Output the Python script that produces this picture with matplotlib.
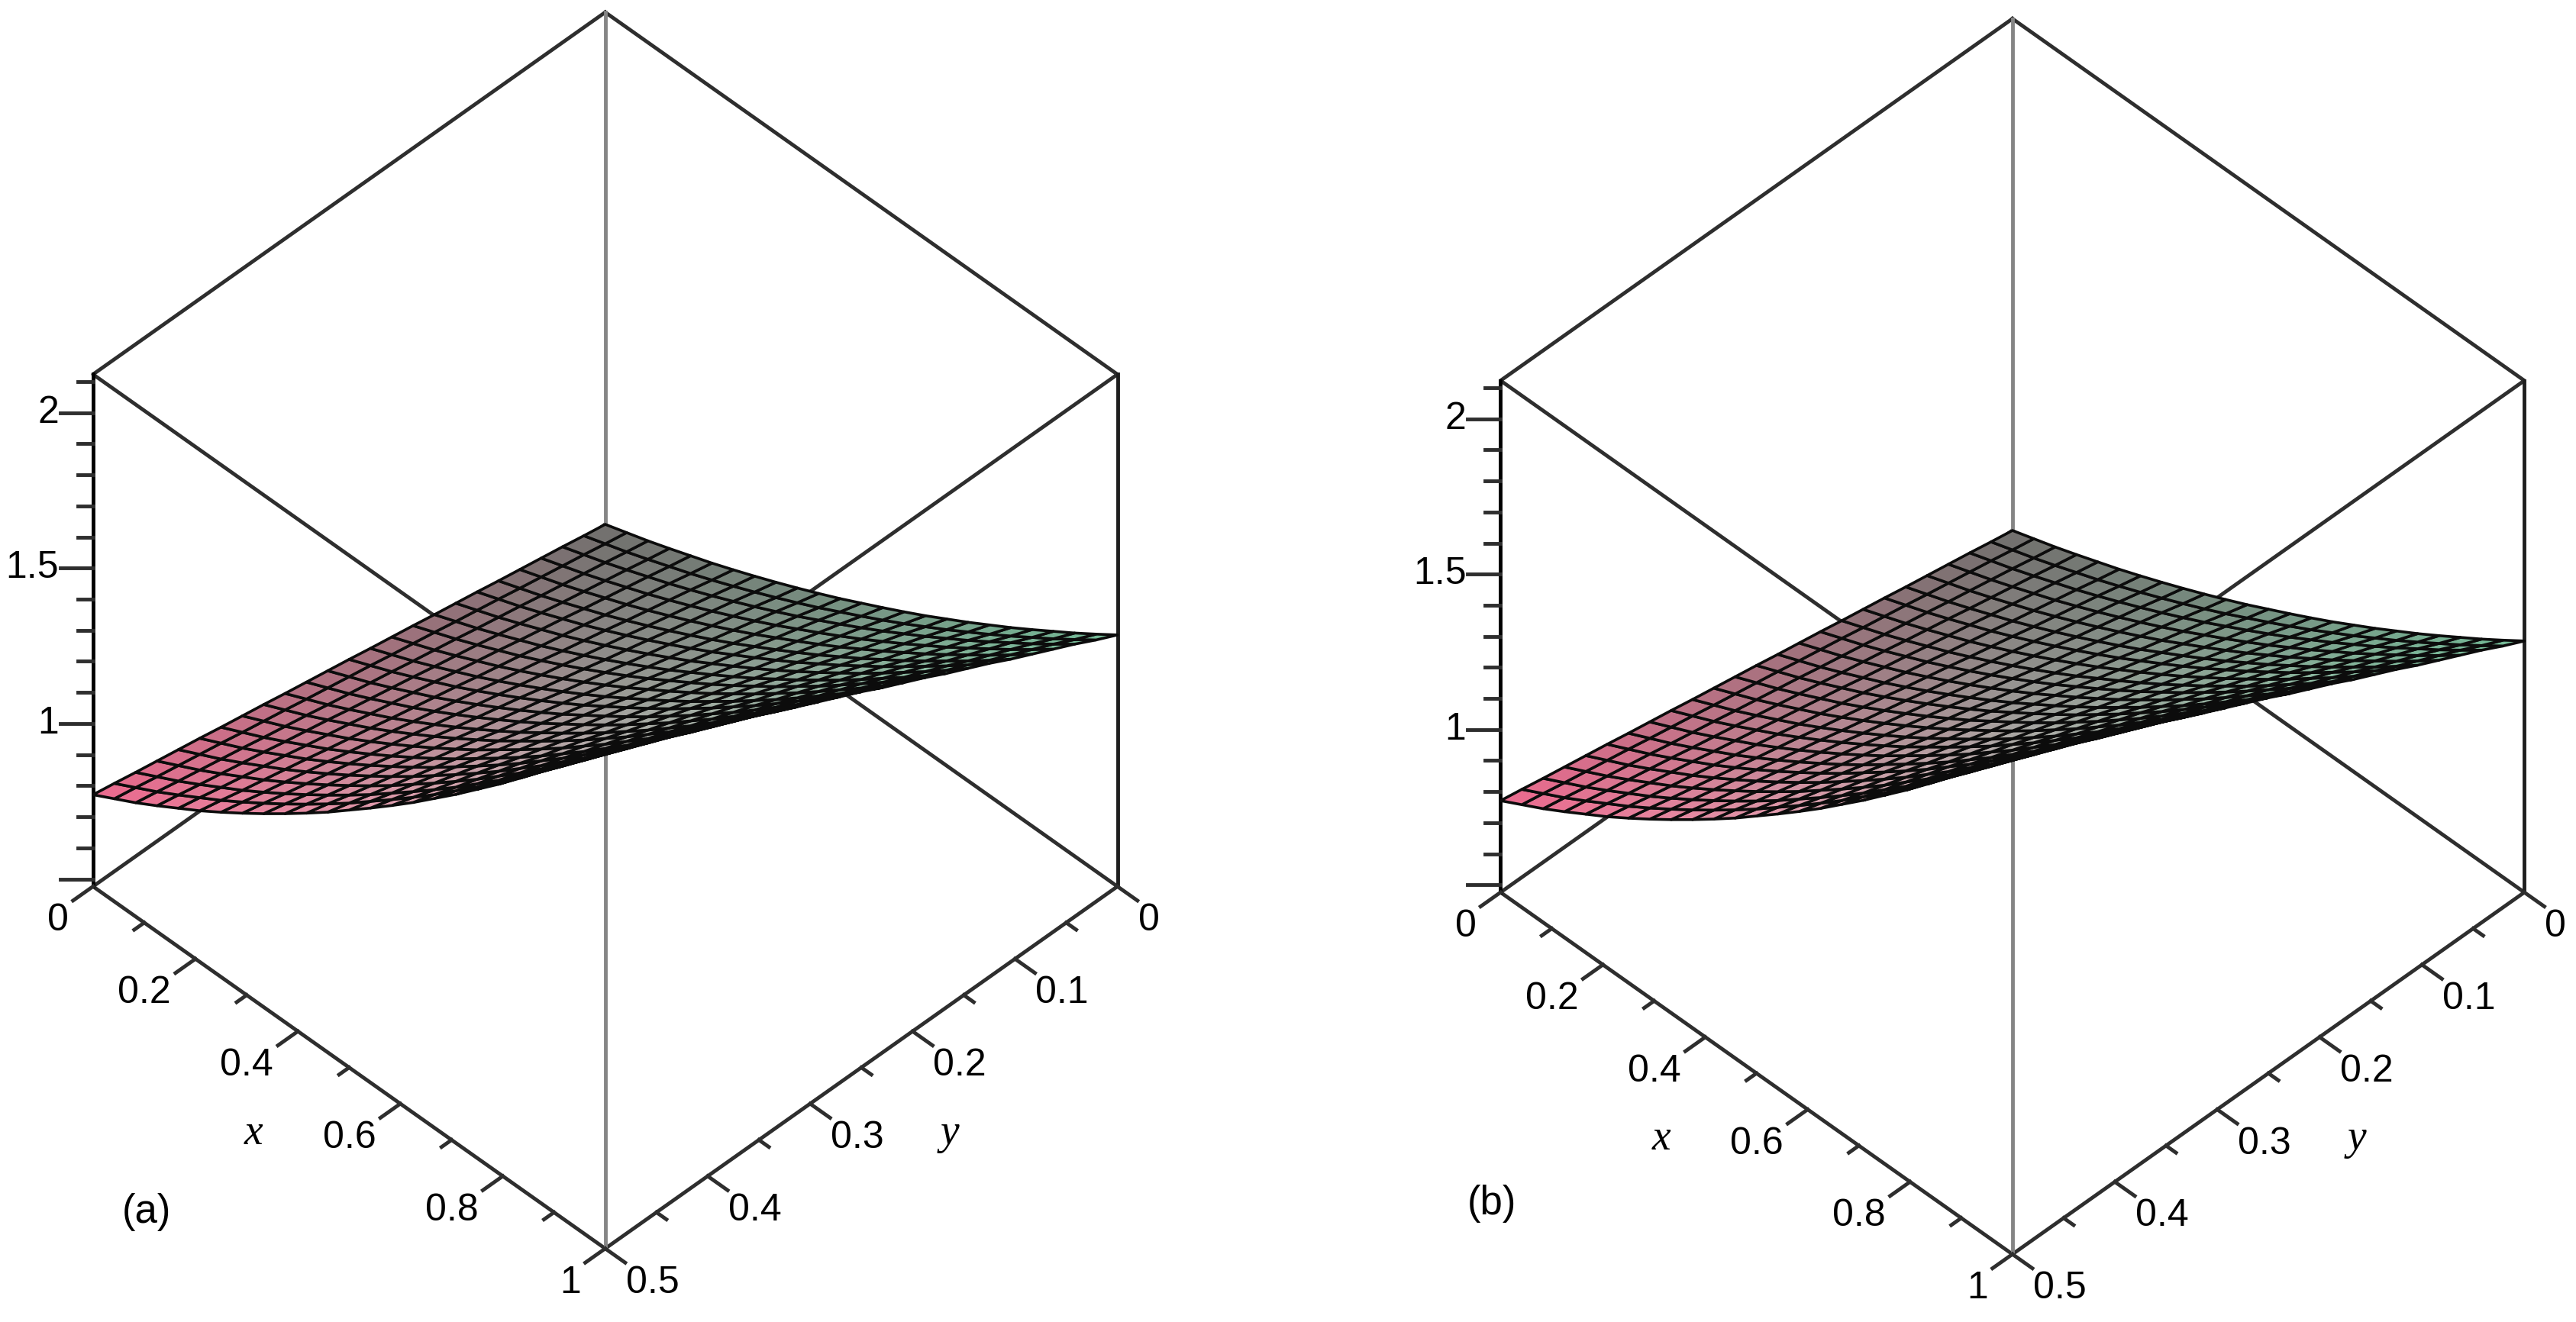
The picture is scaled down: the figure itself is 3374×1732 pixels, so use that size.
import numpy as np
import matplotlib
matplotlib.use("Agg")
import matplotlib.pyplot as plt
from mpl_toolkits.mplot3d import proj3d

# Figure size in pixels
W_PX, H_PX = 3374, 1732
DPI = 100

# Surface grid: 25 x 25 points over x in [0, 1], y in [0, 0.5]
x_grid = np.linspace(0.0, 1.0, 25)
y_grid = np.linspace(0.0, 0.5, 25)

# height along the y = 0 rim (upper right edge of the sheet)
z_edge_y0 = [0.476, 0.498, 0.520, 0.544, 0.569, 0.594, 0.621, 0.649, 0.678,
             0.708, 0.739, 0.771, 0.805, 0.839, 0.874, 0.910, 0.948, 0.986,
             1.026, 1.066, 1.108, 1.151, 1.194, 1.239, 1.285]
# height along the x = 0 rim (upper left edge of the sheet)
z_edge_x0 = [0.476, 0.488, 0.501, 0.513, 0.525, 0.537, 0.550, 0.562, 0.574,
             0.587, 0.599, 0.611, 0.624, 0.636, 0.648, 0.660, 0.673, 0.685,
             0.697, 0.710, 0.722, 0.734, 0.746, 0.759, 0.771]

z_range = (0.476, 2.123)

# ticks
x_major = [0, 0.2, 0.4, 0.6, 0.8, 1]
x_labels = ["0", "0.2", "0.4", "0.6", "0.8", "1"]
x_minor = [0.1, 0.3, 0.5, 0.7, 0.9]
y_major = [0, 0.1, 0.2, 0.3, 0.4, 0.5]
y_labels = ["0", "0.1", "0.2", "0.3", "0.4", "0.5"]
y_minor = [0.05, 0.15, 0.25, 0.35, 0.45]
z_major = [0.5, 1, 1.5, 2]
z_labeled = [1, 1.5, 2]
z_tick_labels = ["1", "1.5", "2"]
z_minor = [0.6, 0.7, 0.8, 0.9, 1.1, 1.2, 1.3, 1.4, 1.6, 1.7, 1.8, 1.9, 2.1]

# where the box corners sit in each panel (image pixels, y down):
# z-axis bottom, z-axis top, front corner, right corner
BOX_A = np.array([[121, 1161], [121, 492], [794, 1635], [1464, 1161]], float)
BOX_B = np.array([[1965, 1169], [1965, 499], [2637, 1643], [3306, 1169]], float)

TICK_FONT = dict(family="Liberation Sans", fontsize=36)
AXLAB_FONT = dict(family="Liberation Serif", style="italic", fontsize=40)
DARK = "#2e2e2e"
GREY = "#858585"


def surface_table():
    """Height table built from the two rim profiles"""
    zx = np.asarray(z_edge_x0)
    zy = np.asarray(z_edge_y0)
    return np.outer(zx, zy) / zy[0]


def face_colors(X, Y):
    """Maple-like red / grey / green shading"""
    U = X / 1.0
    V = Y / 0.5
    h = U - V
    pink = np.array([0.78, 0.35, 0.47])
    grey = np.array([0.53, 0.52, 0.51])
    green = np.array([0.38, 0.62, 0.50])
    wp = np.clip(-h, 0, 1)[..., None]
    wg = np.clip(h, 0, 1)[..., None]
    base = grey + wp * (pink - grey) + wg * (green - grey)
    light = (0.85 + 0.7 * (U + V) / 2)[..., None]
    rgb = np.clip(base * light, 0, 1)
    return np.concatenate([rgb, np.ones(rgb.shape[:2] + (1,))], axis=2)


def to_pixels(fig, ax, pts3d):
    """Project data points to image pixels (y down)"""
    pts3d = np.asarray(pts3d, float)
    M = ax.get_proj()
    xs, ys, _ = proj3d.proj_transform(pts3d[:, 0], pts3d[:, 1], pts3d[:, 2], M)
    pix = ax.transData.transform(np.column_stack([xs, ys]))
    return np.column_stack([pix[:, 0], H_PX - pix[:, 1]])


def place_box(fig, ax, target):
    """Move/scale the 3D axes so the box corners land on the target pixels"""
    z0, z1 = z_range
    corners = np.array([[0, 0.5, z0], [0, 0.5, z1], [1, 0.5, z0], [1, 0, z0]])
    tgt = np.column_stack([target[:, 0], H_PX - target[:, 1]])
    for _ in range(3):
        fig.canvas.draw()
        pix = to_pixels(fig, ax, corners)
        pts = np.column_stack([pix[:, 0], H_PX - pix[:, 1]])
        bb = ax.get_position().transformed(fig.transFigure)
        c0 = np.array([bb.x0 + bb.width / 2, bb.y0 + bb.height / 2])
        s0 = bb.width
        q = (pts - c0) / s0
        qm, tm = q.mean(axis=0), tgt.mean(axis=0)
        s = ((q - qm) * (tgt - tm)).sum() / ((q - qm) ** 2).sum()
        c = tm - s * qm
        ax.set_position([(c[0] - s / 2) / W_PX, (c[1] - s / 2) / H_PX,
                         s / W_PX, s / H_PX])
    fig.canvas.draw()


def put_text(fig, px, py, s, **kw):
    fig.text(px / W_PX, 1 - py / H_PX, s, **kw)


def draw_panel(fig, target, label, label_xy):
    ax = fig.add_axes([0.1, 0.1, 0.4, 0.4 * W_PX / H_PX], projection="3d",
                      proj_type="ortho")
    ax.set_facecolor("none")
    ax.set_axis_off()
    ax.computed_zorder = False
    ax.view_init(elev=-45, azim=-135)
    ax.set_box_aspect((1, 1, 1))
    z0, z1 = z_range
    ax.set_xlim(0, 1)
    ax.set_ylim(0, 0.5)
    ax.set_zlim(z0, z1)

    lw = 3.5
    line_kw = dict(lw=lw, clip_on=False)
    # box edges
    for zz in (z0, z1):
        ax.plot([0, 1, 1, 0, 0], [0, 0, 0.5, 0.5, 0], [zz] * 5, color=DARK,
                zorder=1, **line_kw)
    ax.plot([0, 0], [0.5, 0.5], [z0, z1], color="black", zorder=1, **line_kw)
    ax.plot([1, 1], [0, 0], [z0, z1], color="#1e1e1e", zorder=1, **line_kw)
    ax.plot([0, 0], [0, 0], [z0, z1], color=GREY, zorder=1, **line_kw)
    ax.plot([1, 1], [0.5, 0.5], [z0, z1], color=GREY, zorder=1, **line_kw)

    # surface
    X, Y = np.meshgrid(x_grid, y_grid)
    Z = surface_table()
    surf = ax.plot_surface(X, Y, Z, facecolors=face_colors(X, Y), rstride=1,
                           cstride=1, shade=False, edgecolor="#0c0c0c",
                           linewidth=2.6, antialiased=True, zorder=2)
    surf.set_clip_on(False)

    # x axis ticks (edge y = 0.5, z = zmin), pointing along +y
    for xv in x_major:
        ax.plot([xv, xv], [0.5, 0.5195], [z0, z0], color=DARK, zorder=3, **line_kw)
    for xv in x_minor:
        ax.plot([xv, xv], [0.5, 0.5098], [z0, z0], color=DARK, zorder=3, **line_kw)
    # y axis ticks (edge x = 1, z = zmin), pointing along +x
    for yv in y_major:
        ax.plot([1, 1.039], [yv, yv], [z0, z0], color=DARK, zorder=3, **line_kw)
    for yv in y_minor:
        ax.plot([1, 1.0195], [yv, yv], [z0, z0], color=DARK, zorder=3, **line_kw)
    # z axis ticks (edge x = 0, y = 0.5), pointing to the left
    for zv in z_major:
        ax.plot([0, -0.032], [0.5, 0.516], [zv, zv], color=DARK, zorder=3, **line_kw)
    for zv in z_minor:
        ax.plot([0, -0.015], [0.5, 0.5075], [zv, zv], color=DARK, zorder=3, **line_kw)

    place_box(fig, ax, target)

    # tick labels, placed in pixels next to the projected tick positions
    px = to_pixels(fig, ax, [[xv, 0.5, z0] for xv in x_major])
    for (u, v), s in zip(px, x_labels):
        put_text(fig, u - 32, v + 45, s, ha="right", va="center", **TICK_FONT)
    px = to_pixels(fig, ax, [[1, yv, z0] for yv in y_major])
    for (u, v), s in zip(px, y_labels):
        put_text(fig, u + 27, v + 45, s, ha="left", va="center", **TICK_FONT)
    px = to_pixels(fig, ax, [[0, 0.5, zv] for zv in z_labeled])
    for (u, v), s in zip(px, z_tick_labels):
        put_text(fig, u - 45, v, s, ha="right", va="center", **TICK_FONT)

    # axis names
    (u, v), = to_pixels(fig, ax, [[0.5, 0.5, z0]])
    put_text(fig, u - 125, v + 86, "x", ha="center", va="center", **AXLAB_FONT)
    (u, v), = to_pixels(fig, ax, [[1, 0.25, z0]])
    put_text(fig, u + 116, v + 86, "y", ha="center", va="center", **AXLAB_FONT)

    put_text(fig, label_xy[0], label_xy[1], label, ha="center", va="center",
             family="Liberation Sans", fontsize=38)
    return ax


def main():
    fig = plt.figure(figsize=(W_PX / DPI, H_PX / DPI), dpi=DPI)
    fig.patch.set_facecolor("white")
    draw_panel(fig, BOX_A, "(a)", (192, 1588))
    draw_panel(fig, BOX_B, "(b)", (1954, 1577))
    fig.savefig("out.png", dpi=DPI, facecolor="white")
    plt.close(fig)


if __name__ == "__main__":
    main()
